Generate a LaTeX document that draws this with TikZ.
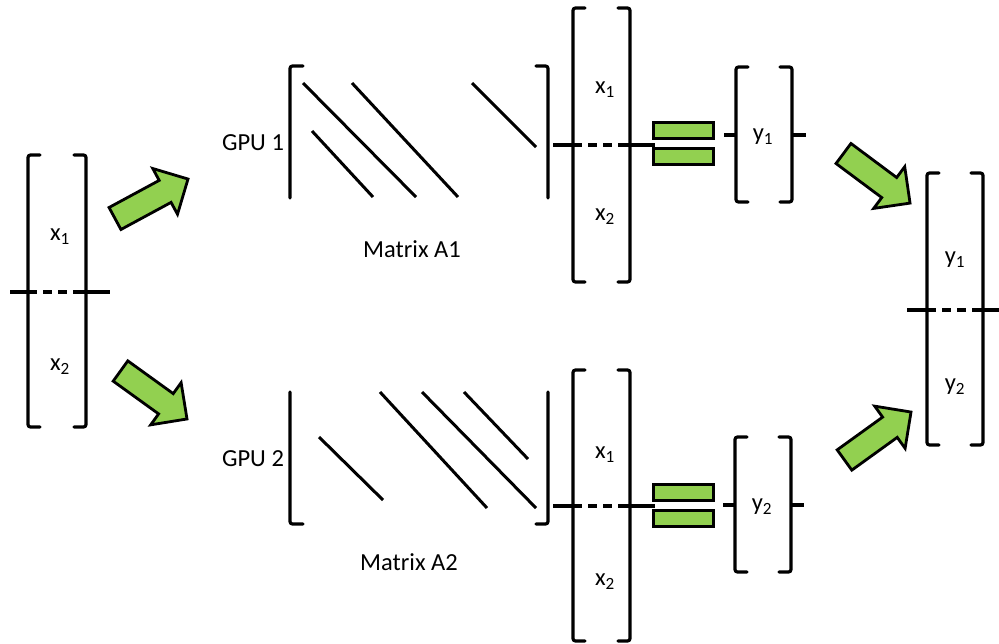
\documentclass[tikz,border=0pt]{standalone}
\usepackage{fontspec}
\setmainfont{Carlito}
\definecolor{arrgreen}{HTML}{92D050}
\tikzset{
  brk/.style={line width=3.2pt, rounded corners=2.5pt, line cap=round},
  diag/.style={line width=3pt},
  sep/.style={line width=3.2pt, dash pattern=on 9pt off 6pt},
  tick/.style={line width=3.4pt},
  eqbar/.style={draw, line width=3pt, fill=arrgreen},
  fat/.style={draw, line width=2.8pt, fill=arrgreen, line join=miter},
  lbl/.style={inner sep=0pt, font=\fontsize{24.5}{29}\selectfont}
}
% full vector bracket: xl, xr, yt, yb
\newcommand\vecbr[4]{%
  \draw[brk] (#1+12,#3) -- (#1,#3) -- (#1,#4) -- (#1+12,#4);
  \draw[brk] (#2-12,#3) -- (#2,#3) -- (#2,#4) -- (#2-12,#4);}
% block arrow: tail centre, angle, length
\newcommand\fatarrow[3]{%
  \begin{scope}[shift={(#1)}, rotate=#2]
    \path[fat] (0,-12.5) -- (#3-26,-12.5) -- (#3-26,-26) -- (#3,0) -- (#3-26,26) -- (#3-26,12.5) -- (0,12.5) -- cycle;
  \end{scope}}
\begin{document}
\begin{tikzpicture}[x=1pt,y=-1pt]
\useasboundingbox (0,0) rectangle (999,643);

% ---------- left input vector ----------
\vecbr{28}{86}{155}{427}
\draw[sep] (28,292) -- (86,292);
\draw[tick] (10,292) -- (30,292);
\draw[tick] (80,292) -- (110,292);
\node[lbl] (lx1) at (60,237) {x\textsubscript{1}};
\node[lbl] (lx2) at (60,367) {x\textsubscript{2}};

% ---------- arrows ----------
\fatarrow{115,218.5}{28.4}{83}
\fatarrow{120.5,371}{-35.8}{82}
\fatarrow{843.5,153.5}{-36.7}{83}
\fatarrow{844.5,460}{35.8}{82}

% ---------- matrix A1 ----------
\draw[brk] (303,66) -- (290,66) -- (290,198);
\draw[brk] (536,66) -- (548,66) -- (548,198);
\draw[diag] (303,83) -- (416,197);
\draw[diag] (312,131) -- (373,197);
\draw[diag] (352,83) -- (458,197);
\draw[diag] (472,83) -- (536,147);
\node[lbl] (gpu1) at (253,143) {GPU 1};
\node[lbl] (ma1) at (412,249) {Matrix A1};

% ---------- matrix A2 ----------
\draw[brk] (290,392) -- (290,524) -- (303,524);
\draw[brk] (548,392) -- (548,524) -- (536,524);
\draw[diag] (319,437) -- (383,500);
\draw[diag] (380,392) -- (487,508);
\draw[diag] (422,392) -- (536,508);
\draw[diag] (464,392) -- (528,459);
\node[lbl] (gpu2) at (253,459) {GPU 2};
\node[lbl] (ma2) at (409,562) {Matrix A2};

% ---------- upper x vector ----------
\vecbr{573}{630}{8}{282}
\draw[sep] (573,145) -- (630,145);
\draw[tick] (553,145) -- (576,145);
\draw[tick] (624,145) -- (655,145);
\node[lbl] (ux1) at (605,90) {x\textsubscript{1}};
\node[lbl] (ux2) at (605,217) {x\textsubscript{2}};

% ---------- lower x vector ----------
\vecbr{573}{630}{370}{641}
\draw[sep] (573,506) -- (630,506);
\draw[tick] (553,506) -- (576,506);
\draw[tick] (624,506) -- (655,506);
\node[lbl] (dx1) at (605,455) {x\textsubscript{1}};
\node[lbl] (dx2) at (605,582) {x\textsubscript{2}};

% ---------- equals signs ----------
\path[eqbar] (653,122) rectangle (713,138);
\path[eqbar] (653,148) rectangle (713,164);
\path[eqbar] (653,484) rectangle (713,500);
\path[eqbar] (653,510) rectangle (713,526);

% ---------- y1, y2 ----------
\vecbr{736}{792}{67}{202}
\draw[tick] (724,135) -- (736,135);
\draw[tick] (792,135) -- (806,135);
\node[lbl] (y1) at (763,137) {y\textsubscript{1}};

\vecbr{735}{791}{437}{572}
\draw[tick] (723,505) -- (735,505);
\draw[tick] (791,505) -- (804,505);
\node[lbl] (y2) at (762,507) {y\textsubscript{2}};

% ---------- result vector ----------
\vecbr{927}{983}{173}{445}
\draw[sep] (927,310) -- (983,310);
\draw[tick] (907,310) -- (930,310);
\draw[tick] (977,310) -- (999,310);
\node[lbl] (ry1) at (955,260) {y\textsubscript{1}};
\node[lbl] (ry2) at (955,387) {y\textsubscript{2}};
\end{tikzpicture}
\end{document}
